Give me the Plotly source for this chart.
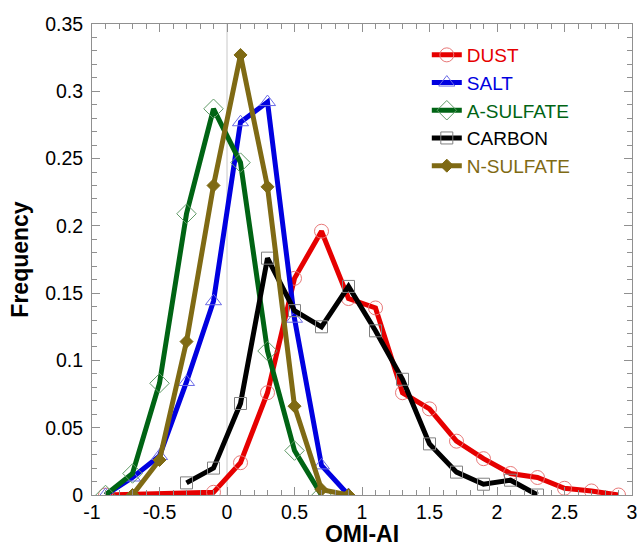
import plotly.graph_objects as go

# ---- data ----
dust_x = [-0.9, -0.1, 0.1, 0.3, 0.5, 0.7, 0.9, 1.1, 1.3, 1.5, 1.7, 1.9, 2.1, 2.3, 2.5, 2.7, 2.9]
dust_y = [0.0, 0.002, 0.024, 0.076, 0.161, 0.196, 0.146, 0.139, 0.076, 0.064, 0.040, 0.027, 0.016, 0.013, 0.005, 0.003, 0.0]

salt_x = [-0.9, -0.7, -0.5, -0.3, -0.1, 0.1, 0.3, 0.5, 0.7, 0.9]
salt_y = [0.0, 0.013, 0.029, 0.084, 0.144, 0.277, 0.292, 0.131, 0.022, 0.0]

asulf_x = [-0.9, -0.7, -0.5, -0.3, -0.1, 0.1, 0.3, 0.5, 0.7]
asulf_y = [0.0, 0.016, 0.083, 0.209, 0.287, 0.247, 0.107, 0.033, 0.0]

carbon_x = [-0.3, -0.1, 0.1, 0.3, 0.5, 0.7, 0.9, 1.1, 1.3, 1.5, 1.7, 1.9, 2.1, 2.3]
carbon_y = [0.009, 0.020, 0.068, 0.176, 0.137, 0.125, 0.155, 0.122, 0.086, 0.038, 0.017, 0.008, 0.011, 0.0]

nsulf_x = [-0.7, -0.5, -0.3, -0.1, 0.1, 0.3, 0.5, 0.7, 0.9]
nsulf_y = [0.0, 0.026, 0.114, 0.230, 0.327, 0.229, 0.066, 0.004, 0.0]

x_ticks = [-1, -0.5, 0, 0.5, 1, 1.5, 2, 2.5, 3]
x_ticklabels = ["-1", "-0.5", "0", "0.5", "1", "1.5", "2", "2.5", "3"]
y_ticks = [0, 0.05, 0.1, 0.15, 0.2, 0.25, 0.3, 0.35]
y_ticklabels = ["0", "0.05", "0.1", "0.15", "0.2", "0.25", "0.3", "0.35"]

series = [
    ("DUST", dust_x, dust_y, "#e60000", "circle-open", "#e87878", 14),
    ("SALT", salt_x, salt_y, "#0000e0", "triangle-up-open", "#6a6ae6", 14),
    ("A-SULFATE", asulf_x, asulf_y, "#006414", "diamond-open", "#5f9a66", 15),
    ("CARBON", carbon_x, carbon_y, "#000000", "square-open", "#808080", 12),
    ("N-SULFATE", nsulf_x, nsulf_y, "#7f6a14", "diamond", "#7f6a14", 10),
]

FONT = "Liberation Sans, Arial, sans-serif"

fig = go.Figure()

fig.add_shape(type="line", x0=0, x1=0, y0=0, y1=0.35, xref="x", yref="y",
              line=dict(color="#c8c8c8", width=1), layer="below")

for name, xs, ys, col, sym, mcol, msize in series:
    fig.add_trace(go.Scatter(
        x=xs, y=ys, mode="lines+markers",
        name=f"<span style='color:{col}'>{name}</span>",
        line=dict(color=col, width=5),
        marker=dict(symbol=sym, size=msize, color=mcol,
                    line=dict(color=mcol, width=1)),
    ))

axis_common = dict(
    showgrid=False, zeroline=False, showline=True, linecolor="#909090", linewidth=1,
    mirror="ticks", ticks="inside", tickcolor="#909090", ticklen=8, tickwidth=1,
    tickfont=dict(family=FONT, size=19.5, color="#000"),
)

fig.update_xaxes(
    range=[-1, 3], tickvals=x_ticks, ticktext=x_ticklabels,
    minor=dict(dtick=0.1, ticks="inside", ticklen=5, tickcolor="#909090"),
    ticklabelstandoff=0,
    title=dict(text="<b>OMI-AI</b>", font=dict(family=FONT, size=23, color="#000"), standoff=14),
    **axis_common,
)
fig.update_yaxes(
    range=[0, 0.35], tickvals=y_ticks, ticktext=y_ticklabels,
    minor=dict(dtick=0.01, ticks="inside", ticklen=5, tickcolor="#909090"),
    ticklabelstandoff=4,
    title=dict(text="<b>Frequency</b>", font=dict(family=FONT, size=23, color="#000"), standoff=10),
    **axis_common,
)

fig.update_layout(
    width=638, height=547,
    margin=dict(l=92, r=6, t=24, b=52, autoexpand=False),
    paper_bgcolor="white", plot_bgcolor="white",
    showlegend=True,
    legend=dict(x=0.62, y=0.9745, xanchor="left", yanchor="top",
                bgcolor="rgba(0,0,0,0)", borderwidth=0,
                font=dict(family=FONT, size=19),
                tracegroupgap=0, itemwidth=30),
)

fig.write_html(
    "out.html",
    config={"displayModeBar": False},
    post_script="document.body.style.margin='0';document.body.style.overflow='hidden';",
)
